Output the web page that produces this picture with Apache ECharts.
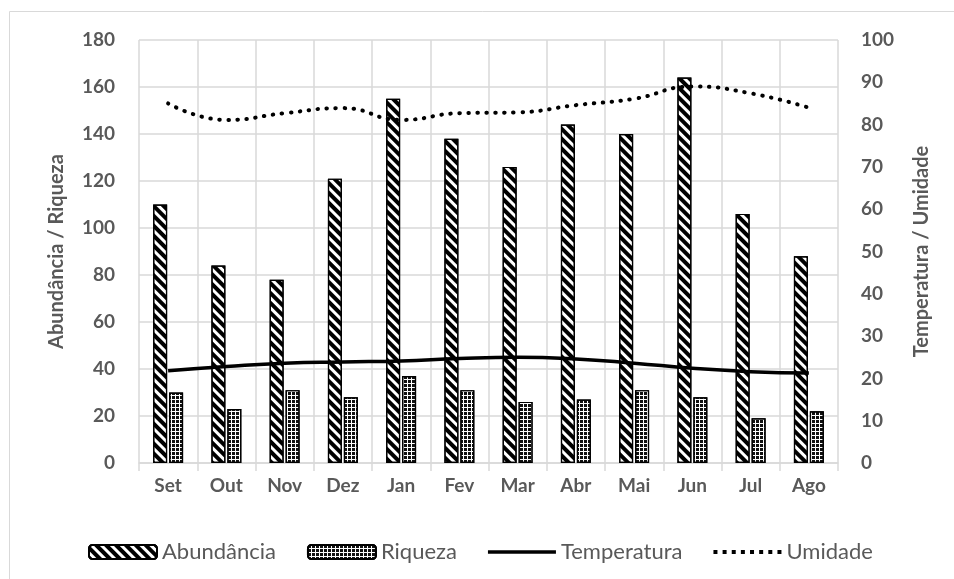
<!DOCTYPE html>
<html><head><meta charset="utf-8">
<script src="https://cdn.jsdelivr.net/npm/echarts@6/dist/echarts.min.js"></script>
<style>html,body{margin:0;padding:0;background:#fff}#c{width:954px;height:579px}</style>
</head><body><div id="c"></div>
<script>
const months = ['Set','Out','Nov','Dez','Jan','Fev','Mar','Abr','Mai','Jun','Jul','Ago'];
const abundancia = [110, 84, 78, 121, 155, 138, 126, 144, 140, 164, 106, 88];
const riqueza = [30, 23, 31, 28, 37, 31, 26, 27, 31, 28, 19, 22];
const temperatura = [21.8, 22.8, 23.6, 23.9, 24.1, 24.7, 25.0, 24.6, 23.6, 22.4, 21.6, 21.3];
const umidade = [85, 81.1, 82.7, 83.9, 81.1, 82.7, 82.9, 84.6, 86.1, 89, 87.4, 84];

const FONT = 'Lato';
const GRAY = '#595959';
const GRID = '#d9d9d9';
// legend icons for the two line series
const solidIcon = 'path://M0,0H68V3.5H0Z';
let dots = '';
for (let i = 0; i < 8; i++) { const x = i * 8; dots += 'M' + x + ',0H' + (x + 3.5) + 'V3.5H' + x + 'Z'; }
const dotIcon = 'path://' + dots;

const chart = echarts.init(document.getElementById('c'), null, {renderer:'canvas'});
chart.setOption({
  animation: false,
  textStyle: {fontFamily: FONT},
  graphic: [{type:'rect', shape:{x:9.5, y:11.5, width:1200, height:1200}, style:{fill:'none', stroke:GRID, lineWidth:1}, silent:true, z:-10}],
  grid: {left:139, right:116, top:40, bottom:116},
  legend: {
    left: 83, top: 536, itemWidth: 68, itemHeight: 14, itemGap: 31,
    textStyle: {color: GRAY, fontSize: 22, fontFamily: FONT, padding:[0,0,0,0]},
    data: [
      {name:'Abundância'},
      {name:'Riqueza'},
      {name:'Temperatura', icon: solidIcon},
      {name:'Umidade', icon: dotIcon}
    ]
  },
  xAxis: {
    type:'category', data: months, boundaryGap: true,
    axisLine: {lineStyle:{color:GRID, width:1.5}},
    axisTick: {show:true, length:8, lineStyle:{color:GRID, width:1.5}},
    splitLine: {show:true, lineStyle:{color:GRID, width:1.5}},
    axisLabel: {color:GRAY, fontSize:19, fontWeight:'bold', margin:13, fontFamily:FONT}
  },
  yAxis: [
    {type:'value', min:0, max:180, interval:20,
     name:'Abundância / Riqueza', nameLocation:'middle', nameGap:72,
     nameTextStyle:{color:GRAY, fontSize:20, fontWeight:'bold', fontFamily:FONT},
     axisLine:{show:false}, axisTick:{show:false},
     splitLine:{show:true, lineStyle:{color:GRID, width:1.5}},
     axisLabel:{color:GRAY, fontSize:19, fontWeight:'bold', margin:24, fontFamily:FONT}},
    {type:'value', min:0, max:100, interval:10,
     name:'Temperatura / Umidade', nameLocation:'middle', nameGap:74, nameRotate:90,
     nameTextStyle:{color:GRAY, fontSize:20, fontWeight:'bold', fontFamily:FONT},
     axisLine:{show:false}, axisTick:{show:false}, splitLine:{show:false},
     axisLabel:{color:GRAY, fontSize:19, fontWeight:'bold', margin:23, fontFamily:FONT}}
  ],
  series: [
    {name:'Abundância', type:'bar', data: abundancia, barWidth:14, barGap:'14%',
     itemStyle:{color:'#ffffff', borderColor:'#000', borderWidth:1.2,
       decal:{symbol:'rect', symbolSize:1, color:'#000', dashArrayX:[1,0], dashArrayY:[3.2,2.3], rotation:Math.PI/4}}},
    {name:'Riqueza', type:'bar', data: riqueza, barWidth:14,
     itemStyle:{color:'#ffffff', borderColor:'#000', borderWidth:1.2,
       decal:{symbol:'rect', symbolSize:1, color:'#111', dashArrayX:[2.5,1], dashArrayY:[2.5,1], rotation:0}}},
    {name:'Temperatura', type:'line', yAxisIndex:1, data: temperatura, smooth:true, symbol:'none', showSymbol:false,
     lineStyle:{color:'#000', width:3.5}, itemStyle:{color:'#000'}},
    {name:'Umidade', type:'line', yAxisIndex:1, data: umidade, smooth:true, symbol:'none', showSymbol:false,
     lineStyle:{color:'#000', width:4, type:[0.5,8.5], cap:'round'}, itemStyle:{color:'#000'}}
  ]
});
</script></body></html>
